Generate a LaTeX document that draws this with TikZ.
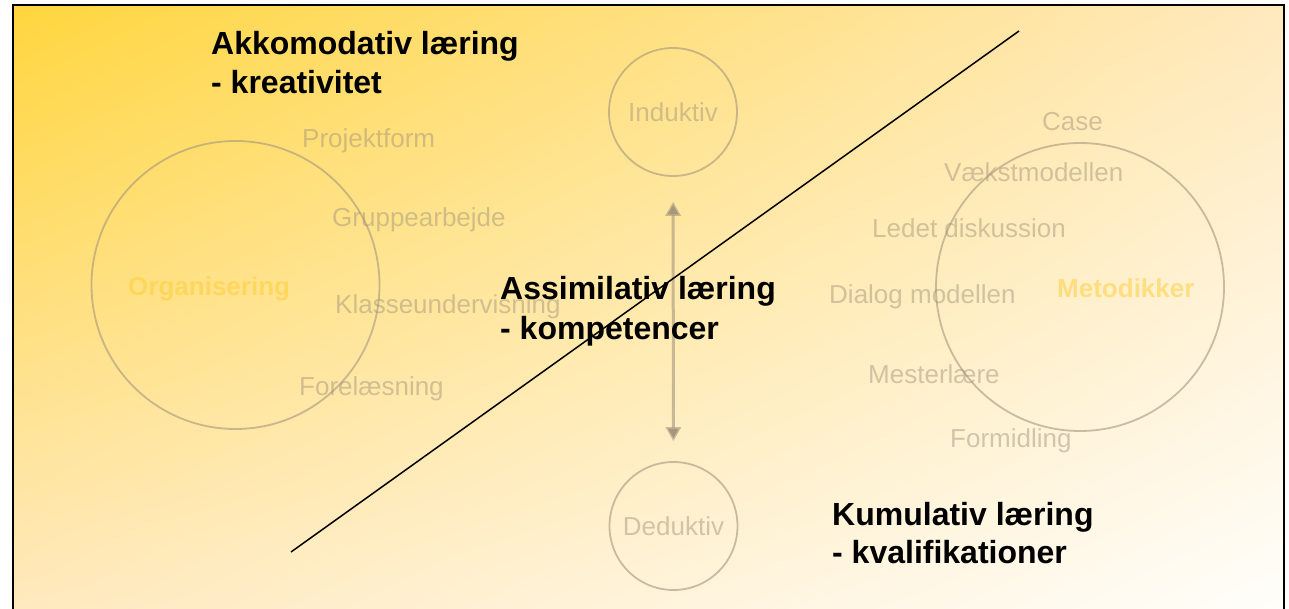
\documentclass[tikz,border=0pt]{standalone}
\usepackage{fontspec}
\setmainfont{Liberation Sans}
\usetikzlibrary{shadings,arrows.meta}
\definecolor{bgTL}{RGB}{255,214,62}
\definecolor{bgTR}{RGB}{255,233,190}
\definecolor{bgBL}{RGB}{255,233,190}
\definecolor{bgBR}{RGB}{255,254,250}
\definecolor{soft}{RGB}{165,150,125}
\definecolor{gold}{RGB}{255,204,51}
\tikzset{
  x=1pt, y=-1pt,
  item/.style={anchor=base west, inner sep=0pt, text=soft, text opacity=0.5,
    font=\fontsize{26}{31}\selectfont},
  title/.style={anchor=base west, inner sep=0pt, text=black,
    font=\fontsize{32}{39}\selectfont\bfseries},
  hub/.style={anchor=base west, inner sep=0pt, text=gold, text opacity=0.5,
    font=\fontsize{26}{31}\selectfont\bfseries},
  ring/.style={circle, draw=soft, draw opacity=0.6, line width=1.8pt, inner sep=0pt},
  smallring/.style={ring, minimum size=128pt, text=soft, text opacity=0.5,
    font=\fontsize{26}{31}\selectfont},
}
\begin{document}
\begin{tikzpicture}
\useasboundingbox (0,0) rectangle (1289,609);
% background
\shade[upper left=bgTL, upper right=bgTR, lower left=bgBL, lower right=bgBR]
  (13,5) rectangle (1284,609);
\draw[line width=1.8pt, black] (13,609) -- (13,5) -- (1284,5) -- (1284,609);
% big circles
\node[ring, minimum size=288pt] (org) at (235.5,285) {};
\node[ring, minimum size=288pt] (met) at (1080,287) {};
% small circles
\node[smallring] (ind) at (673,112) {Induktiv};
\node[smallring] (ded) at (673.5,526) {Deduktiv};
% hub labels
\node[hub] (orgl) at (128,296) {Organisering};
\node[hub] (metl) at (1057,298) {Metodikker};
% left items
\node[item] (p1) at (302,148) {Projektform};
\node[item] (p2) at (332,227) {Gruppearbejde};
\node[item] (p3) at (335,313) {Klasseundervisning};
\node[item] (p4) at (299,395) {Forelæsning};
% right items
\node[item] (m1) at (1042,131) {Case};
\node[item] (m2) at (944,182) {Vækstmodellen};
\node[item] (m3) at (872,238) {Ledet diskussion};
\node[item] (m4) at (829,304) {Dialog modellen};
\node[item] (m5) at (868,383) {Mesterlære};
\node[item] (m6) at (950,447) {Formidling};
% vertical arrow
\draw[draw=soft, draw opacity=0.6, line width=3pt,
  {Triangle[width=15pt,length=14pt]}-{Triangle[width=15pt,length=14pt]},
  shorten <=25pt, shorten >=20pt] (ind) -- (ded);
% diagonal line
\coordinate (d1) at (1019,31);
\coordinate (d2) at (291,552);
\draw[line width=1.5pt, black] (d1) -- (d2);
% titles
\node[title] (a1) at (211,55) {Akkomodativ læring};
\node[title] (a2) at (211,94) {- kreativitet};
\node[title] (b1) at (500,300) {Assimilativ læring};
\node[title] (b2) at (500,339) {- kompetencer};
\node[title] (c1) at (832,525) {Kumulativ læring};
\node[title] (c2) at (832,563) {- kvalifikationer};
\end{tikzpicture}
\end{document}
